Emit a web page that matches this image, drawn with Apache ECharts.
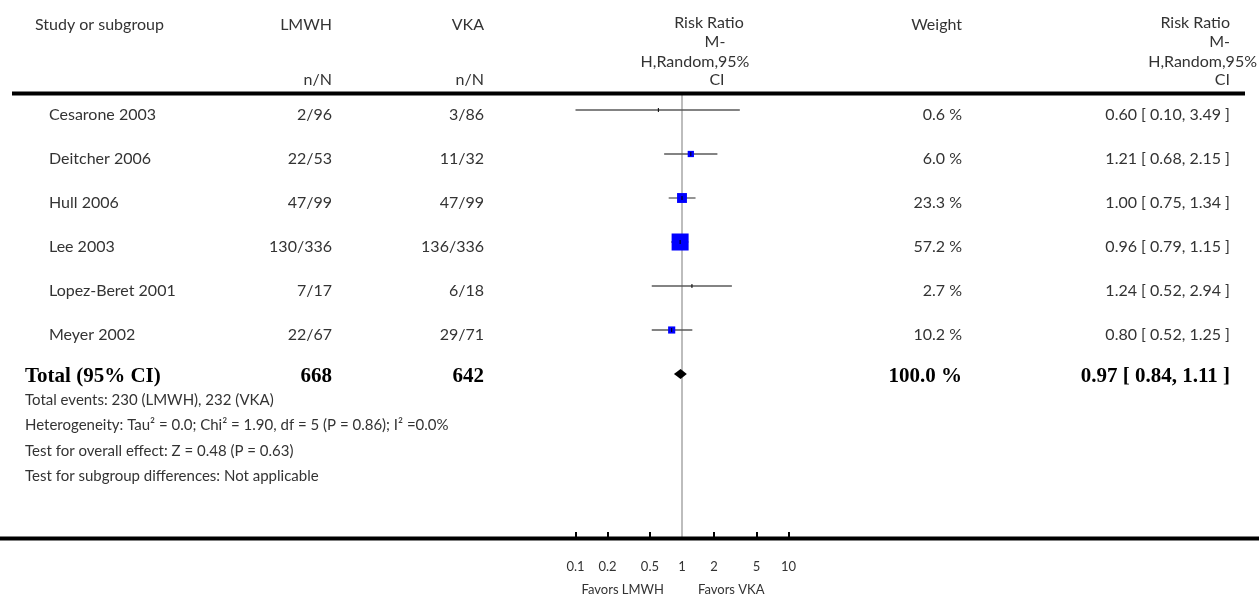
<!DOCTYPE html>
<html>
<head>
<meta charset="utf-8">
<script src="https://cdn.jsdelivr.net/npm/echarts@6/dist/echarts.min.js"></script>
<style>
  html, body { margin: 0; padding: 0; background: #fff; }
  #forest { width: 1259px; height: 602px; }
</style>
</head>
<body>
<div id="forest"></div>
<script>
  // study rows
  const studies = ['Cesarone 2003', 'Deitcher 2006', 'Hull 2006', 'Lee 2003', 'Lopez-Beret 2001', 'Meyer 2002']
  const lmwhEvents = ['2/96', '22/53', '47/99', '130/336', '7/17', '22/67']
  const vkaEvents = ['3/86', '11/32', '47/99', '136/336', '6/18', '29/71']
  const riskRatio = [0.60, 1.21, 1.00, 0.96, 1.24, 0.80]
  const ciLower = [0.10, 0.68, 0.75, 0.79, 0.52, 0.52]
  const ciUpper = [3.49, 2.15, 1.34, 1.15, 2.94, 1.25]
  const weights = [0.6, 6.0, 23.3, 57.2, 2.7, 10.2]

  // pooled row
  const totalLabel = 'Total (95% CI)'
  const totalN = ['668', '642']
  const totalWeight = 100.0
  const totalRR = [0.97, 0.84, 1.11] // estimate, lower, upper

  const axisTicks = [0.1, 0.2, 0.5, 1, 2, 5, 10]
  const favors = ['Favors LMWH', 'Favors VKA']
  const footnotes = [
    'Total events: 230 (LMWH), 232 (VKA)',
    'Heterogeneity: Tau² = 0.0; Chi² = 1.90, df = 5 (P = 0.86); I² =0.0%',
    'Test for overall effect: Z = 0.48 (P = 0.63)',
    'Test for subgroup differences: Not applicable'
  ]

  const FONT = 'Lato'
  const TXT = '#333'

  const fmtCI = (e, l, u) => e.toFixed(2) + ' [ ' + l.toFixed(2) + ', ' + u.toFixed(2) + ' ]'

  let myChart = echarts.init(document.getElementById('forest'))

  const rowTop = 17 / 44
  let option = {
    animation: false,
    backgroundColor: '#fff',
    grid: { left: 575.5, width: 213, top: 93, height: 445 },
    xAxis: {
      type: 'log',
      logBase: 10,
      min: 0.1,
      max: 10,
      axisLine: { show: false, onZero: false },
      splitLine: { show: false },
      axisTick: {
        inside: true,
        length: 6,
        customValues: axisTicks,
        lineStyle: { color: '#000', width: 2 }
      },
      axisLabel: {
        customValues: axisTicks,
        margin: 22,
        fontFamily: FONT,
        fontSize: 13,
        color: TXT,
        formatter: v => String(+Number(v).toPrecision(6))
      }
    },
    yAxis: {
      type: 'value',
      inverse: true,
      min: -rowTop,
      max: -rowTop + 445 / 44,
      show: false
    },
    series: [
      {
        // line of no effect
        type: 'scatter',
        data: [],
        z: 1,
        markLine: {
          silent: true,
          z: 1,
          symbol: 'none',
          label: { show: false },
          lineStyle: { color: '#bdbdbd', width: 2, type: 'solid' },
          data: [{ xAxis: 1 }]
        }
      },
      {
        type: 'custom',
        z: 6,
        encode: { x: [0, 1, 2], y: 3 },
        data: studies.map((s, i) => [ciLower[i], ciUpper[i], riskRatio[i], i, weights[i]]),
        renderItem (params, api) {
          const lo = api.coord([api.value(0), api.value(3)])
          const hi = api.coord([api.value(1), api.value(3)])
          const pt = api.coord([api.value(2), api.value(3)])
          const w = api.value(4)
          const size = w >= 5 ? 5 + 0.21 * w : 0
          const children = [{
            type: 'line',
            shape: { x1: lo[0], y1: lo[1], x2: hi[0], y2: hi[1] },
            style: { stroke: '#5a5a5a', lineWidth: 1.3 }
          }]
          if (size) {
            children.push({
              type: 'rect',
              shape: { x: pt[0] - size / 2, y: pt[1] - size / 2, width: size, height: size },
              style: { fill: '#0000ff' }
            })
          }
          children.push({
            type: 'line',
            shape: { x1: pt[0], y1: pt[1] - 2, x2: pt[0], y2: pt[1] + 2 },
            style: { stroke: '#000', lineWidth: 1 }
          })
          return { type: 'group', children }
        }
      },
      {
        // pooled diamond
        type: 'custom',
        z: 6,
        encode: { x: [0, 1, 2], y: 3 },
        data: [[totalRR[1], totalRR[2], totalRR[0], studies.length]],
        renderItem (params, api) {
          const lo = api.coord([api.value(0), api.value(3)])
          const hi = api.coord([api.value(1), api.value(3)])
          const pt = api.coord([api.value(2), api.value(3)])
          return {
            type: 'polygon',
            shape: { points: [[lo[0], lo[1]], [pt[0], pt[1] - 5], [hi[0], hi[1]], [pt[0], pt[1] + 5]] },
            style: { fill: '#000' }
          }
        }
      }
    ]
  }
  myChart.setOption(option)

  // table text, placed on the rows of the y axis
  const rowY = i => myChart.convertToPixel({ yAxisIndex: 0 }, i) + 5
  const txt = (text, x, y, align, extra) => ({
    type: 'text',
    x: x,
    y: y,
    z: 10,
    style: Object.assign({
      text: text,
      fill: TXT,
      font: '16px ' + FONT,
      align: align,
      verticalAlign: 'middle'
    }, extra || {})
  })

  const COL = { study: 49, lmwh: 332, vka: 484, weight: 962, rr: 1230 }
  let g = []

  // header
  g.push(txt('Study or subgroup', 35, 25, 'left'))
  g.push(txt('LMWH', COL.lmwh, 25, 'right'))
  g.push(txt('VKA', COL.vka, 25, 'right'))
  g.push(txt('n/N', COL.lmwh, 80, 'right'))
  g.push(txt('n/N', COL.vka, 80, 'right'))
  g.push(txt('Risk Ratio', 709, 23, 'center'))
  g.push(txt('M-', 715, 42, 'center'))
  g.push(txt('H,Random,95%', 695, 62, 'center'))
  g.push(txt('CI', 717, 80, 'center'))
  g.push(txt('Weight', COL.weight, 25, 'right'))
  g.push(txt('Risk Ratio', COL.rr, 23, 'right'))
  g.push(txt('M-', COL.rr, 42, 'right'))
  g.push(txt('H,Random,95%', 1257, 62, 'right'))
  g.push(txt('CI', COL.rr, 80, 'right'))

  studies.forEach((s, i) => {
    const y = rowY(i)
    g.push(txt(s, COL.study, y, 'left'))
    g.push(txt(lmwhEvents[i], COL.lmwh, y, 'right'))
    g.push(txt(vkaEvents[i], COL.vka, y, 'right'))
    g.push(txt(weights[i].toFixed(1) + ' %', COL.weight, y, 'right'))
    g.push(txt(fmtCI(riskRatio[i], ciLower[i], ciUpper[i]), COL.rr, y, 'right'))
  })

  const bold = { font: 'bold 21px "Liberation Serif"', fill: '#000' }
  const ty = rowY(studies.length) - 2
  g.push(txt(totalLabel, 25, ty, 'left', bold))
  g.push(txt(totalN[0], COL.lmwh, ty, 'right', bold))
  g.push(txt(totalN[1], COL.vka, ty, 'right', bold))
  g.push(txt(totalWeight.toFixed(1) + ' %', COL.weight, ty, 'right', bold))
  g.push(txt(fmtCI(totalRR[0], totalRR[1], totalRR[2]), COL.rr, ty, 'right', bold))

  footnotes.forEach((f, i) => {
    g.push(txt(f, 25, 400 + i * 25.5, 'left', { font: '15px ' + FONT }))
  })

  g.push(txt(favors[0], 664, 590, 'right', { font: '13px ' + FONT }))
  g.push(txt(favors[1], 698, 590, 'left', { font: '13px ' + FONT }))

  // rules
  g.push({ type: 'line', z: 9, shape: { x1: 12, y1: 93.5, x2: 1245, y2: 93.5 }, style: { stroke: '#000', lineWidth: 4 } })
  g.push({ type: 'line', z: 9, shape: { x1: 0, y1: 538.5, x2: 1259, y2: 538.5 }, style: { stroke: '#000', lineWidth: 4 } })

  myChart.setOption({ graphic: g })
</script>
</body>
</html>
